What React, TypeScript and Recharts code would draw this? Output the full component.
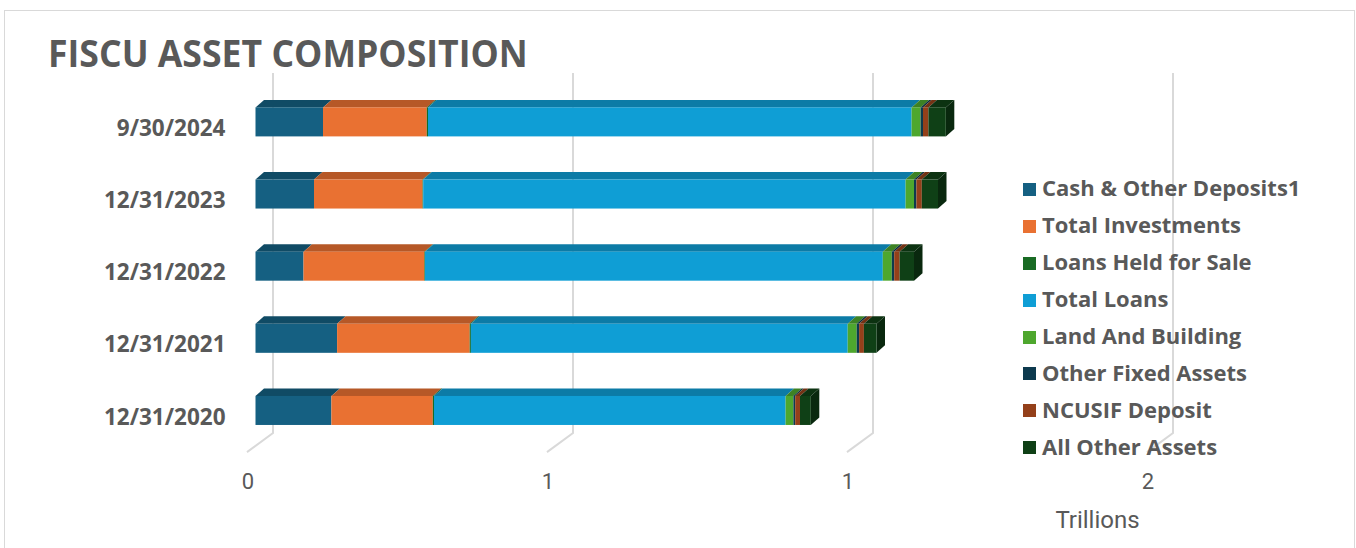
import { BarChart, Bar, XAxis, YAxis, CartesianGrid } from 'recharts'

const dates = ['9/30/2024', '12/31/2023', '12/31/2022', '12/31/2021', '12/31/2020']

// values in trillions of dollars
const cashOtherDeposits = [0.1125, 0.0975, 0.08, 0.136, 0.1265]
const totalInvestments = [0.173, 0.181, 0.2015, 0.221, 0.169]
const loansHeldForSale = [0.002, 0.001, 0.001, 0.002, 0.002]
const totalLoans = [0.806, 0.804, 0.763, 0.628, 0.586]
const landAndBuilding = [0.015, 0.014, 0.015, 0.015, 0.013]
const otherFixedAssets = [0.004, 0.004, 0.004, 0.004, 0.003]
const ncusifDeposit = [0.009, 0.009, 0.009, 0.008, 0.008]
const allOtherAssets = [0.029, 0.027, 0.024, 0.021, 0.018]

const xTicks = [0, 0.5, 1, 1.5]

const series = [
  { key: 'cash', name: 'Cash & Other Deposits1', values: cashOtherDeposits, color: '#156082' },
  { key: 'inv', name: 'Total Investments', values: totalInvestments, color: '#E97132' },
  { key: 'lhfs', name: 'Loans Held for Sale', values: loansHeldForSale, color: '#196B24' },
  { key: 'loans', name: 'Total Loans', values: totalLoans, color: '#0F9ED5' },
  { key: 'land', name: 'Land And Building', values: landAndBuilding, color: '#4EA72E' },
  { key: 'ofa', name: 'Other Fixed Assets', values: otherFixedAssets, color: '#0D3A4E' },
  { key: 'ncusif', name: 'NCUSIF Deposit', values: ncusifDeposit, color: '#94401A' },
  { key: 'other', name: 'All Other Assets', values: allOtherAssets, color: '#0F4016' },
]

const data = dates.map((date, i) => {
  const row: Record<string, string | number> = { date }
  series.forEach((s) => { row[s.key] = s.values[i] })
  return row
})

const TEXT = '#595959'
const GRID = '#d9d9d9'
const NARROW = "'Roboto', sans-serif"
const WIDE = "'Open Sans', 'Noto Sans', sans-serif"

// depth of the fake 3d blocks
const DX = 8.5
const DY = 7.5

function shade(hex: string, f: number) {
  const n = parseInt(hex.slice(1), 16)
  const r = Math.round(((n >> 16) & 255) * f)
  const g = Math.round(((n >> 8) & 255) * f)
  const b = Math.round((n & 255) * f)
  return `rgb(${r},${g},${b})`
}

function makeBlock(color: string, last: boolean) {
  return (props: any) => {
    const { x, y, width, height } = props
    if (!width || width <= 0) return <g />
    const top = `${x},${y} ${x + DX},${y - DY} ${x + width + DX},${y - DY} ${x + width},${y}`
    const side = `${x + width},${y} ${x + width + DX},${y - DY} ${x + width + DX},${y + height - DY} ${x + width},${y + height}`
    return (
      <g>
        <polygon points={top} fill={shade(color, 0.78)} />
        {last && <polygon points={side} fill={shade(color, 0.62)} />}
        <rect x={x} y={y} width={width} height={height} fill={color} />
      </g>
    )
  }
}

// back wall line + floor diagonal for each value tick
function WallLine(props: any) {
  const { x1, y1, y2 } = props
  const bx = x1 + 17.5
  return (
    <path
      key={props.key}
      d={`M${bx},${y1 - 12.5} L${bx},${y2 - 13} L${x1 - 8.5},${y2 + 6}`}
      stroke={GRID}
      strokeWidth={2}
      fill="none"
    />
  )
}

function ValueTick({ x, y, payload }: any) {
  return (
    <text x={x - 7.5} y={y + 27} textAnchor="middle" dominantBaseline="central"
      fill={TEXT} fontSize={22} fontFamily={NARROW}>
      {Math.round(payload.value)}
    </text>
  )
}

function DateTick({ x, y, payload }: any) {
  return (
    <text x={x - 22} y={y + 6} textAnchor="end" dominantBaseline="central"
      fill={TEXT} fontSize={22.5} fontWeight={700} fontFamily={WIDE}>
      {payload.value}
    </text>
  )
}

function TrillionsLabel({ viewBox }: any) {
  return (
    <text x={viewBox.x + viewBox.width - 58} y={viewBox.y + 74} textAnchor="middle"
      dominantBaseline="central" fill={TEXT} fontSize={24} fontFamily={NARROW}>
      Trillions
    </text>
  )
}

export default function App() {
  return (
    <div style={{ position: 'absolute', left: 0, top: 0, width: 1356, height: 548, overflow: 'hidden', background: '#fff' }}>
      <div style={{ position: 'absolute', left: 4, top: 10, width: 1349, height: 600, border: `1.5px solid ${GRID}` }} />
      <div style={{
        position: 'absolute', left: 48, top: 30, height: 44, lineHeight: '44px',
        fontFamily: WIDE, fontWeight: 700, fontSize: 38, color: TEXT, whiteSpace: 'nowrap',
        transform: 'scaleX(0.937)', transformOrigin: 'left center',
      }}>
        FISCU ASSET COMPOSITION
      </div>
      <div style={{ position: 'absolute', left: 0, top: 0 }}>
        <BarChart
          width={1356}
          height={548}
          data={data}
          layout="vertical"
          margin={{ top: 85.4, right: 200.5, left: 0, bottom: 71.9 }}
          barSize={29}
        >
          <CartesianGrid horizontal={false} vertical={WallLine} />
          <XAxis
            type="number"
            domain={[0, 1.5]}
            ticks={xTicks}
            height={30}
            axisLine={false}
            tickLine={false}
            tick={<ValueTick />}
            label={<TrillionsLabel />}
          />
          <YAxis
            type="category"
            dataKey="date"
            width={255.5}
            axisLine={false}
            tickLine={false}
            tick={<DateTick />}
          />
          {series.map((s, i) => (
            <Bar
              key={s.key}
              dataKey={s.key}
              name={s.name}
              stackId="a"
              fill={s.color}
              isAnimationActive={false}
              shape={makeBlock(s.color, i === series.length - 1)}
            />
          ))}
        </BarChart>
      </div>
      <div style={{ position: 'absolute', left: 1023, top: 169 }}>
        {series.map((s) => (
          <div key={s.key} style={{ display: 'flex', alignItems: 'center', height: 36.9 }}>
            <div style={{ width: 13, height: 13, background: s.color, marginRight: 6, marginTop: 4 }} />
            <span style={{ fontFamily: WIDE, fontWeight: 700, fontSize: 22, color: TEXT, whiteSpace: 'nowrap' }}>
              {s.name}
            </span>
          </div>
        ))}
      </div>
    </div>
  )
}
